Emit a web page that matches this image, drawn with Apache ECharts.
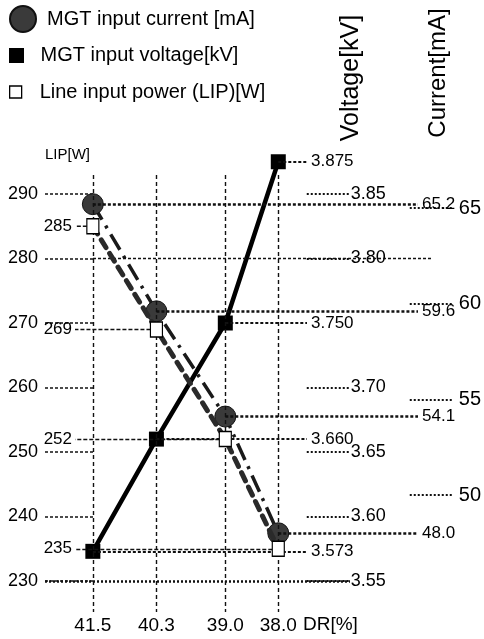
<!DOCTYPE html>
<html><head><meta charset="utf-8">
<script src="https://cdn.jsdelivr.net/npm/echarts@6/dist/echarts.min.js"></script>
<style>html,body{margin:0;padding:0;background:#fff}#c{width:484px;height:639px}</style>
</head><body><div id="c"></div>
<script>
// ---------- data ----------
const drValues = [41.5, 40.3, 39.0, 38.0];
const currentMA = [65.2, 59.6, 54.1, 48.0];
const voltageKV = [3.573, 3.660, 3.750, 3.875];
const lipW = [285, 269, 252, 235];
const lipTicks = [230, 240, 250, 260, 270, 280, 290];
const voltageTicks = [3.55, 3.60, 3.65, 3.70, 3.80, 3.85];
const currentTicks = [50, 55, 60, 65];
const seriesNames = ['MGT input current [mA]', 'MGT input voltage[kV]', 'Line input power (LIP)[W]'];

// ---------- layout ----------
const G = {left: 45, right: 453, top: 155, bottom: 612};
const GRID_LINE_TOP = 175;
function edgeRange(v1, p1, v2, p2, pStart, pEnd) {
  const k = (v2 - v1) / (p2 - p1);
  return [v1 + (pStart - p1) * k, v1 + (pEnd - p1) * k];
}
const xr = edgeRange(41.5, 93, 38.0, 279, G.left, G.right);
const lipR = edgeRange(290, 194, 230, 581, G.top, G.bottom);
const voltR = edgeRange(3.85, 194, 3.55, 581, G.top, G.bottom);
const curR = edgeRange(65, 208, 50, 495, G.top, G.bottom);
const F = '"Liberation Sans", Arial, sans-serif';
const INK = '#111';

// vertical label nudges (text padding) for the value labels
const curPad = [[0, 0, 10, 0], [14, 0, 0, 0], [10, 0, 0, 0], [10, 0, 0, 0]];
const voltPad = [[0, 0, 6, 0], [0, 0, 10, 0], [10, 0, 0, 0], [0, 0, 0, 0]];
const lipPad = [[0, 0, 0, 0], [0, 0, 0, 0], [0, 0, 0, 0], [0, 0, 0, 0]];

const chart = echarts.init(document.getElementById('c'), null, {renderer: 'canvas'});
const sq = 'path://M0,0H10V10H0Z';
const legendText = {fontFamily: F, fontSize: 20, color: '#000'};

function leader(xs, ys, endX, fmt, pads) {
  return xs.map((d, i) => [
    {coord: [d, ys[i]], label: {formatter: fmt(ys[i]), padding: pads[i]}},
    {x: endX, yAxis: ys[i]}
  ]);
}

chart.setOption({
  animation: false,
  backgroundColor: '#fff',
  textStyle: {fontFamily: F},
  grid: {left: G.left, right: 484 - G.right, top: G.top, bottom: 639 - G.bottom, containLabel: false},
  legend: [
    {data: [{name: seriesNames[0], icon: 'circle'}], left: 9, top: 5, padding: 0, itemWidth: 38, itemHeight: 26, textStyle: legendText, selectedMode: false},
    {data: [{name: seriesNames[1], icon: sq}], left: 9, top: 45.5, padding: 0, itemWidth: 38, itemHeight: 15, textStyle: legendText, selectedMode: false},
    {data: [{name: seriesNames[2], icon: sq, itemStyle: {color: '#fff', borderColor: '#000', borderWidth: 1.3}}], left: 9, top: 82, padding: 0, itemWidth: 38, itemHeight: 12, textStyle: legendText, selectedMode: false}
  ],
  xAxis: {
    type: 'value', inverse: true, min: xr[1], max: xr[0],
    axisLine: {show: false},
    axisTick: {show: false, customValues: drValues},
    axisLabel: {customValues: drValues, formatter: v => v.toFixed(1), fontSize: 19, color: '#000', margin: 4, fontFamily: F},
    splitLine: {show: false}
  },
  yAxis: [
    {
      type: 'value', position: 'left', min: lipR[1], max: lipR[0],
      name: 'LIP[W]', nameLocation: 'end', nameGap: 0,
      nameTextStyle: {align: 'left', verticalAlign: 'middle', fontSize: 15, color: '#000', fontFamily: F},
      axisLine: {show: false},
      axisTick: {show: true, inside: true, length: 48, customValues: lipTicks, lineStyle: {color: INK, type: [3, 2], width: 1.5}},
      axisLabel: {customValues: lipTicks, fontSize: 18, color: '#000', margin: 7, fontFamily: F},
      splitLine: {show: false}
    },
    {
      type: 'value', position: 'right', offset: -103, min: voltR[1], max: voltR[0],
      axisLine: {show: false},
      axisTick: {show: true, inside: true, length: 43, customValues: voltageTicks, lineStyle: {color: INK, type: [2, 2], width: 2}},
      axisLabel: {customValues: voltageTicks, formatter: v => v.toFixed(2), fontSize: 18, color: '#000', margin: 2, fontFamily: F},
      splitLine: {show: false}
    },
    {
      type: 'value', position: 'right', offset: 0, min: curR[1], max: curR[0],
      axisLine: {show: false},
      axisTick: {show: true, inside: true, length: 43, customValues: currentTicks, lineStyle: {color: INK, type: [2, 2], width: 2}},
      axisLabel: {customValues: currentTicks, fontSize: 20, color: '#000', margin: 7, fontFamily: F},
      splitLine: {show: false}
    }
  ],
  series: [
    {
      name: seriesNames[1], type: 'line', yAxisIndex: 1, clip: false, z: 4,
      data: drValues.map((d, i) => [d, voltageKV[i]]),
      symbol: 'rect', symbolSize: 15,
      itemStyle: {color: '#000'},
      lineStyle: {color: '#000', width: 4.5, type: 'solid'},
      markLine: {
        symbol: ['none', 'none'], silent: true, animation: false,
        lineStyle: {color: INK, width: 2, type: [3, 2]},
        label: {show: true, position: 'end', distance: 4, fontSize: 17, color: '#000', fontFamily: F},
        data: leader(drValues, voltageKV, 307, v => v.toFixed(3), voltPad)
      }
    },
    {
      name: seriesNames[0], type: 'line', yAxisIndex: 2, clip: false, z: 3,
      data: drValues.map((d, i) => [d, currentMA[i]]),
      symbol: 'circle', symbolSize: 21,
      itemStyle: {color: '#3a3a3a', borderColor: '#111', borderWidth: 1},
      lineStyle: {color: '#1a1a1a', width: 3.5, type: [18, 7, 3, 7]},
      markLine: {
        symbol: ['none', 'none'], silent: true, animation: false,
        lineStyle: {color: INK, width: 2.5, type: [3, 2]},
        label: {show: true, position: 'end', distance: 4, fontSize: 17, color: '#000', fontFamily: F},
        data: leader(drValues, currentMA, 418, v => v.toFixed(1), curPad)
      }
    },
    {
      name: seriesNames[2], type: 'line', yAxisIndex: 0, clip: false, z: 5,
      data: drValues.map((d, i) => [d, lipW[i]]),
      symbol: 'rect', symbolSize: [12, 15],
      itemStyle: {color: '#fff', borderColor: '#000', borderWidth: 1.3},
      lineStyle: {color: '#2a2a2a', width: 5, type: [9, 7], cap: 'round'},
      markLine: {
        symbol: ['none', 'none'], silent: true, animation: false,
        lineStyle: {color: INK, width: 1.3, type: [4, 2]},
        label: {show: true, position: 'end', distance: 3, fontSize: 17, color: '#000', fontFamily: F},
        data: leader(drValues, lipW, 75, v => v.toFixed(0), lipPad).concat([
          [{x: G.left, yAxis: lipTicks[0], lineStyle: {width: 2.5, type: [2, 2], color: INK}, label: {show: false}}, {x: 350, yAxis: lipTicks[0]}],
          [{x: 93, yAxis: lipTicks[5], lineStyle: {width: 1.3, type: [3, 2], color: INK}, label: {show: false}}, {x: 433, yAxis: lipTicks[5]}]
        ]).concat(drValues.map(d => [
          {xAxis: d, y: GRID_LINE_TOP, lineStyle: {width: 1.4, type: [4, 3], color: INK}, label: {show: false}},
          {xAxis: d, y: G.bottom}
        ]))
      }
    }
  ],
  graphic: [
    {type: 'text', x: 351, y: 78, rotation: Math.PI / 2, style: {text: 'Voltage[kV]', font: '25px "Liberation Sans", Arial, sans-serif', fill: '#000', align: 'center', verticalAlign: 'middle'}},
    {type: 'text', x: 438, y: 73, rotation: Math.PI / 2, style: {text: 'Current[mA]', font: '24px "Liberation Sans", Arial, sans-serif', fill: '#000', align: 'center', verticalAlign: 'middle'}},
    {type: 'text', x: 303, y: 625, style: {text: 'DR[%]', font: '19px "Liberation Sans", Arial, sans-serif', fill: '#000', align: 'left', verticalAlign: 'middle'}}
  ]
});
</script>
</body></html>
